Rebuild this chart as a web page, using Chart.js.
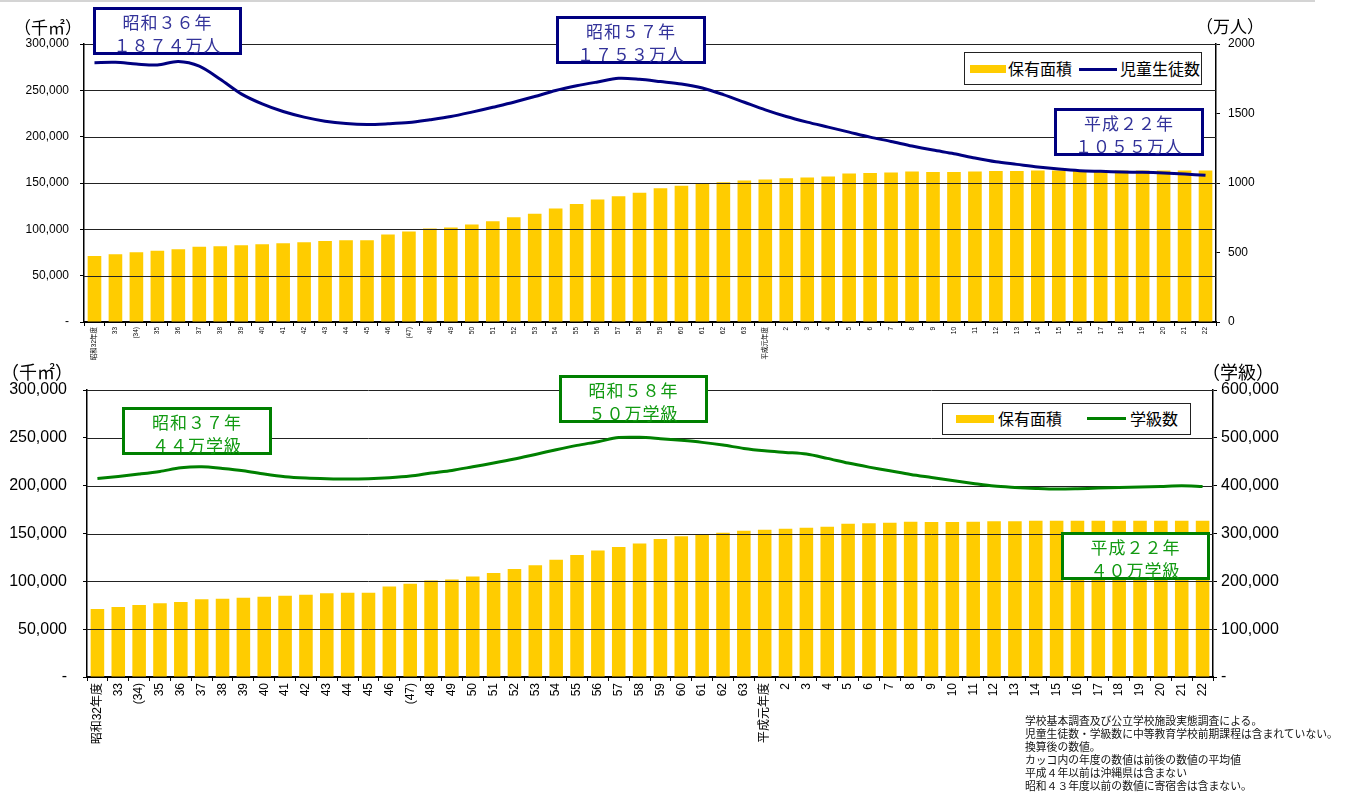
<!DOCTYPE html>
<html lang="ja">
<head>
<meta charset="utf-8">
<title>公立学校施設の保有面積と児童生徒数・学級数の推移</title>
<script src="https://cdn.jsdelivr.net/npm/chart.js@4.4.1/dist/chart.umd.min.js"></script>
<style>
  html, body { margin: 0; padding: 0; background: #fff; }
  body { width: 1354px; height: 793px; position: relative; overflow: hidden;
         font-family: "Liberation Sans", "Noto Sans CJK JP", sans-serif; color: #000; }
  canvas { position: absolute; left: 0; }
  #c1 { top: 0; }
  #c2 { top: 360px; }
  .topline { position: absolute; left: 0; top: 0; width: 1315px; height: 2px; background: #d4d4d4; }
  .unit { position: absolute; font-family: "Noto Sans CJK JP", sans-serif; font-size: 17px; line-height: 20px; white-space: nowrap; }
  .callout { position: absolute; box-sizing: border-box; background: #fff; border: 3px solid;
             font-family: "Noto Sans CJK JP", sans-serif; font-size: 17px; line-height: 23px;
             text-align: center; white-space: nowrap; letter-spacing: 1px; }
  .callout.navy { border-color: #000080; color: #33339a; }
  .callout.green { border-color: #008000; color: #129a12; }
  .legend { position: absolute; box-sizing: border-box; background: #fff; border: 1px solid #222;
            font-family: "Noto Sans CJK JP", sans-serif; font-size: 16px; }
  .legend .sw { position: absolute; height: 8px; background: #FFCC00; }
  .legend .ln { position: absolute; height: 3px; }
  .legend .tx { position: absolute; line-height: 20px; white-space: nowrap; }
  .notes { position: absolute; left: 1025px; top: 714px; font-family: "Noto Sans CJK JP", sans-serif;
           font-size: 10.8px; line-height: 12.9px; color: #111; white-space: nowrap; }
</style>
</head>
<body>
<div class="topline"></div>
<canvas id="c1" width="1354" height="365"></canvas>
<canvas id="c2" width="1354" height="433"></canvas>

<div class="unit" style="left:14px; top:17px;">（千㎡）</div>
<div class="unit" style="left:1196px; top:16px;">（万人）</div>
<div class="unit" style="left:1px; top:361px; font-size:18px;">（千㎡）</div>
<div class="unit" style="left:1202px; top:361px; font-size:18px;">（学級）</div>

<div class="callout navy" style="left:93px; top:7px; width:149px; height:48px;">昭和３６年<br>１８７４万人</div>
<div class="callout navy" style="left:556px; top:16px; width:150px; height:48px;">昭和５７年<br>１７５３万人</div>
<div class="callout navy" style="left:1054px; top:108px; width:150px; height:48px;">平成２２年<br>１０５５万人</div>

<div class="callout green" style="left:122px; top:407px; width:150px; height:48px;">昭和３７年<br>４４万学級</div>
<div class="callout green" style="left:559px; top:375px; width:149px; height:48px;">昭和５８年<br>５０万学級</div>
<div class="callout green" style="left:1061px; top:532px; width:149px; height:48px;">平成２２年<br>４０万学級</div>

<div class="legend" id="lg1" style="left:964px; top:52px; width:238px; height:33px;"></div>
<div class="legend" id="lg2" style="left:942px; top:403px; width:249px; height:32px;"></div>

<div class="notes">
学校基本調査及び公立学校施設実態調査による。<br>
児童生徒数・学級数に中等教育学校前期課程は含まれていない。<br>
換算後の数値。<br>
カッコ内の年度の数値は前後の数値の平均値<br>
平成４年以前は沖縄県は含まない<br>
昭和４３年度以前の数値に寄宿舎は含まない。
</div>

<script>
// 年度（昭和32年度〜平成22年度）
const categories = [
  '昭和32年度','33','(34)','35','36','37','38','39','40','41','42','43','44','45','46','(47)',
  '48','49','50','51','52','53','54','55','56','57','58','59','60','61','62','63',
  '平成元年度','2','3','4','5','6','7','8','9','10','11','12','13','14','15','16',
  '17','18','19','20','21','22'
];

// 保有面積（千㎡）
const floorArea = [
  71100, 73200, 75300, 77000, 78500, 81200, 81800, 82800, 83800, 84900, 86000, 87500, 88100, 88100, 94500, 97600,
  100800, 101900, 105100, 108800, 113000, 116800, 122600, 127400, 132100, 135800, 139600, 144300, 147000, 149100, 150700, 152800,
  153900, 155000, 156000, 157100, 160300, 160800, 161300, 162400, 162000, 162000, 162400, 162900, 162900, 163400, 163400, 163400,
  163400, 163400, 163400, 163400, 163400, 163400
];

// 児童生徒数（万人）
const students = [
  1866, 1868, 1856, 1849, 1874, 1840, 1746, 1641, 1569, 1514, 1474, 1445, 1428, 1421, 1426, 1435,
  1455, 1478, 1510, 1545, 1581, 1622, 1665, 1699, 1727, 1753, 1746, 1730, 1713, 1684, 1636, 1581,
  1526, 1478, 1438, 1402, 1366, 1330, 1299, 1266, 1237, 1211, 1180, 1153, 1134, 1115, 1100, 1089,
  1084, 1079, 1077, 1072, 1065, 1055
];

// 学級数
const classes = [
  415100, 419300, 424200, 429800, 437400, 439500, 436000, 431200, 424200, 418600, 415800, 414400, 413700, 414400, 416500, 420000,
  426300, 431900, 439500, 447200, 455600, 465300, 475100, 484200, 491900, 500500, 501000, 498100, 494700, 490500, 484900, 477900,
  473000, 469500, 466000, 457000, 447200, 438800, 431200, 423500, 417200, 410900, 404700, 399100, 396300, 394200, 392800, 393500,
  394900, 396300, 397000, 398400, 399800, 398400
];

const areaLabel = '保有面積';
const studentLabel = '児童生徒数';
const classLabel = '学級数';

const AREA_COLOR = '#FFCC00';
const NAVY = '#000080';
const GREEN = '#008000';
const GRID = '#222';
const LATIN = '"Liberation Sans", "Noto Sans CJK JP", sans-serif';

const withComma = v => v === 0 ? '-' : Number(v).toLocaleString('en-US');

// 目盛線は棒の上（折れ線の下）に描く
const gridOverBars = {
  id: 'gridOverBars',
  afterDatasetDraw(chart, args) {
    if (args.meta.type !== 'bar') return;
    const { ctx, chartArea: a, scales: { y } } = chart;
    ctx.save();
    ctx.strokeStyle = GRID;
    ctx.lineWidth = 1;
    ctx.beginPath();
    y.ticks.forEach(t => {
      if (t.value === 0) return;
      const py = Math.round(y.getPixelForValue(t.value)) + 0.5;
      ctx.moveTo(a.left, py);
      ctx.lineTo(a.right, py);
    });
    ctx.stroke();
    ctx.restore();
  }
};

function buildChart(canvasId, opt) {
  return new Chart(document.getElementById(canvasId), {
    data: {
      labels: categories,
      datasets: [
        { type: 'line', label: opt.lineLabel, data: opt.lineData, yAxisID: 'y1',
          borderColor: opt.lineColor, backgroundColor: opt.lineColor, borderWidth: 3,
          pointRadius: 0, tension: 0.3, order: 0 },
        { type: 'bar', label: areaLabel, data: floorArea, yAxisID: 'y',
          backgroundColor: AREA_COLOR, borderWidth: 0,
          barPercentage: 0.65, categoryPercentage: 1.0, order: 1 }
      ]
    },
    plugins: [gridOverBars],
    options: {
      responsive: false,
      animation: false,
      devicePixelRatio: 1,
      layout: { padding: { top: opt.padTop, left: 0, right: 0, bottom: 0 } },
      plugins: { legend: { display: false }, tooltip: { enabled: false } },
      scales: {
        x: {
          grid: { display: true, drawOnChartArea: false, drawTicks: true, tickLength: 4, color: '#000', offset: true },
          border: { display: true, color: '#000', width: 2 },
          ticks: { autoSkip: false, maxRotation: 90, minRotation: 90, padding: opt.xPad,
                   color: '#000', font: { family: LATIN, size: opt.xFont } },
          afterFit(s) { s.height = opt.xHeight; }
        },
        y: {
          position: 'left', min: 0, max: 300000,
          ticks: { stepSize: 50000, callback: withComma, padding: opt.yPad, color: '#000',
                   font: { family: LATIN, size: opt.yFont } },
          grid: { drawOnChartArea: false, drawTicks: true, tickLength: 4, color: '#000' },
          border: { display: true, color: '#000', width: 1.5 },
          afterFit(s) { s.width = opt.leftWidth; }
        },
        y1: {
          position: 'right', min: 0, max: opt.rightMax,
          ticks: { stepSize: opt.rightStep, callback: opt.rightFormat, padding: opt.y1Pad, color: '#000',
                   font: { family: LATIN, size: opt.yFont } },
          grid: { drawOnChartArea: false, drawTicks: true, tickLength: 4, color: '#000' },
          border: { display: true, color: '#000', width: 1.5 },
          afterFit(s) { s.width = opt.rightWidth; }
        }
      }
    }
  });
}

// 上段：保有面積と児童生徒数
const chartTop = buildChart('c1', {
  lineLabel: studentLabel, lineData: students, lineColor: NAVY,
  padTop: 44, xHeight: 43, xFont: 6.5, xPad: 1,
  yFont: 12, yPad: 11, y1Pad: 8, leftWidth: 84, rightWidth: 138,
  rightMax: 2000, rightStep: 500, rightFormat: v => String(v)
});

// 下段：保有面積と学級数
const chartBottom = buildChart('c2', {
  lineLabel: classLabel, lineData: classes, lineColor: GREEN,
  padTop: 30, xHeight: 116, xFont: 12, xPad: 2,
  yFont: 16, yPad: 16, y1Pad: 4, leftWidth: 87, rightWidth: 141,
  rightMax: 600000, rightStep: 100000, rightFormat: withComma
});

// 凡例（データセットの名称と色から組み立てる）
function buildLegend(id, chart, pos) {
  const box = document.getElementById(id);
  const [lineDs, barDs] = chart.data.datasets;
  box.innerHTML =
    `<div class="sw" style="left:${pos.sw[0]}px; top:${pos.sw[1]}px; width:${pos.sw[2]}px; background:${barDs.backgroundColor}"></div>` +
    `<div class="tx" style="left:${pos.t1[0]}px; top:${pos.t1[1]}px;">${barDs.label}</div>` +
    `<div class="ln" style="left:${pos.ln[0]}px; top:${pos.ln[1]}px; width:${pos.ln[2]}px; background:${lineDs.borderColor}"></div>` +
    `<div class="tx" style="left:${pos.t2[0]}px; top:${pos.t2[1]}px;">${lineDs.label}</div>`;
}
buildLegend('lg1', chartTop,    { sw: [5, 12, 36], t1: [43, 5], ln: [114, 15, 38], t2: [155, 5] });
buildLegend('lg2', chartBottom, { sw: [13, 11, 38], t1: [55, 4], ln: [144, 13, 39], t2: [187, 4] });
</script>
</body>
</html>
